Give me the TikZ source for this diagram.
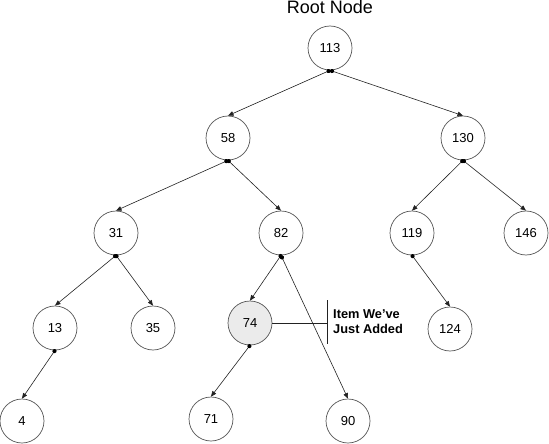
\documentclass[tikz,border=0pt]{standalone}
\usepackage{fontspec}
\setmainfont{Liberation Sans}
\usetikzlibrary{arrows.meta}
\definecolor{ringgray}{HTML}{555555}
\definecolor{linegray}{HTML}{222222}
\definecolor{newfill}{HTML}{EBEBEB}
\begin{document}
\begin{tikzpicture}[x=1pt,y=-1pt,
  treenode/.style={circle,draw=ringgray,line width=0.7pt,minimum size=44pt,inner sep=0pt,font=\fontsize{13}{15}\selectfont},
  newnode/.style={treenode,fill=newfill},
  link/.style={draw=linegray,line width=0.6pt,-{Triangle[length=5.5pt,width=4.5pt]}},
  dotmark/.style={circle,fill=black,inner sep=0pt,minimum size=4.2pt,sloped,anchor=center},
  bracket/.style={draw=linegray,line width=0.8pt}]
\useasboundingbox (0,0) rectangle (549,444);
\node[anchor=base,font=\fontsize{18}{20}\selectfont] (title) at (330,14) {Root Node};
\node[treenode] (n113) at (330,48) {113};
\node[treenode] (n58) at (228,138) {58};
\node[treenode] (n130) at (463,138) {130};
\node[treenode] (n31) at (116,233) {31};
\node[treenode] (n82) at (281,233) {82};
\node[treenode] (n119) at (412,233) {119};
\node[treenode] (n146) at (526,233) {146};
\node[treenode] (n13) at (55,328) {13};
\node[treenode] (n35) at (153,328) {35};
\node[newnode] (n74) at (250,323) {74};
\node[treenode] (n124) at (450,329) {124};
\node[treenode] (n4) at (22,421) {4};
\node[treenode] (n71) at (211,419) {71};
\node[treenode] (n90) at (348,421) {90};
\draw[link] (n113.south) -- node[dotmark,pos=0.015]{} (n58.north);
\draw[link] (n113.south) -- node[dotmark,pos=0.015]{} (n130.north);
\draw[link] (n58.south) -- node[dotmark,pos=0.015]{} (n31.north);
\draw[link] (n58.south) -- node[dotmark,pos=0.015]{} (n82.north);
\draw[link] (n130.south) -- node[dotmark,pos=0.015]{} (n119.north);
\draw[link] (n130.south) -- node[dotmark,pos=0.015]{} (n146.north);
\draw[link] (n31.south) -- node[dotmark,pos=0.015]{} (n13.north);
\draw[link] (n31.south) -- node[dotmark,pos=0.015]{} (n35.north);
\draw[link] (n82.south) -- node[dotmark,pos=0.015]{} (n74.north);
\draw[link] (n82.south) -- node[dotmark,pos=0.015]{} (n90.north);
\draw[link] (n119.south) -- node[dotmark,pos=0.015]{} (n124.north);
\draw[link] (n13.south) -- node[dotmark,pos=0.015]{} (n4.north);
\draw[link] (n74.south) -- node[dotmark,pos=0.015]{} (n71.north);
\coordinate (btop) at (327,300);
\coordinate (bbot) at (327,344);
\coordinate (bmid) at (327,323);
\draw[bracket] (btop) -- (bbot);
\draw[bracket] (n74.east) -- (bmid);
\node[anchor=west,align=left,inner sep=0pt,font=\bfseries\fontsize{12.8}{15}\selectfont] (label) at (333,321.5) {Item We've\\Just Added};
\end{tikzpicture}
\end{document}
